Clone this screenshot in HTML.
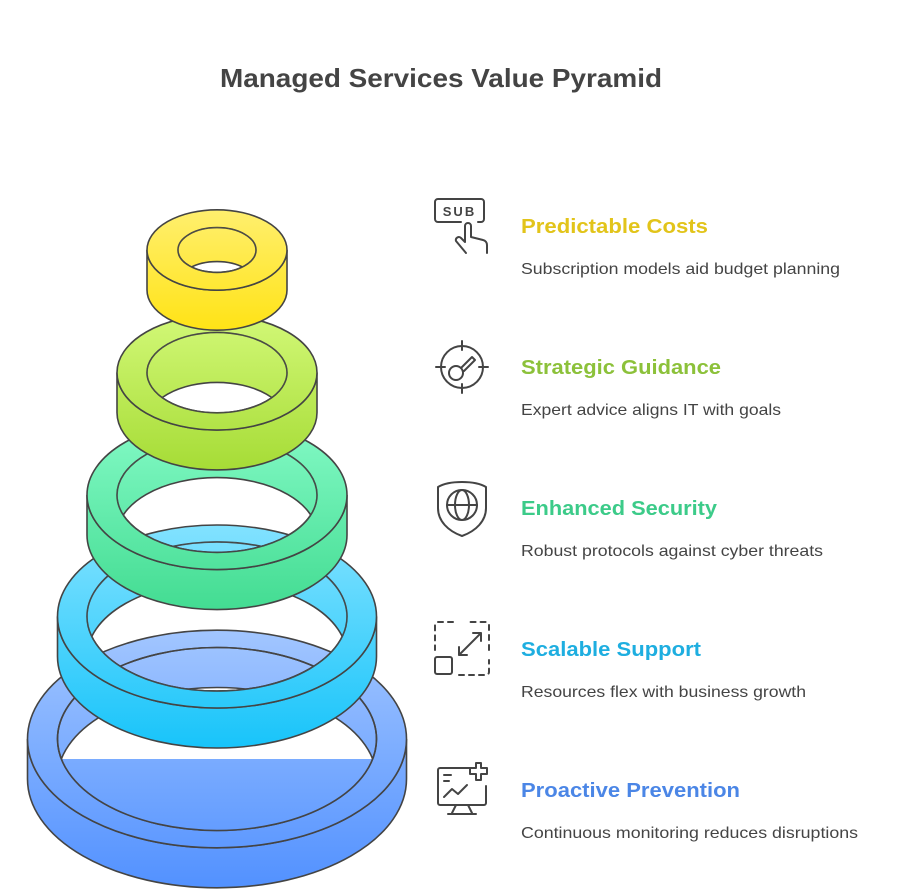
<!DOCTYPE html>
<html><head><meta charset="utf-8"><style>
html,body{margin:0;padding:0;background:#fff;}
svg{display:block;}
</style></head><body>
<svg width="900" height="892" viewBox="0 0 900 892" xmlns="http://www.w3.org/2000/svg" font-family="'Liberation Sans', sans-serif">
<defs>
<linearGradient id="gB" gradientUnits="userSpaceOnUse" x1="0" y1="630" x2="0" y2="888"><stop offset="0" stop-color="#A2C6FF"/><stop offset="1" stop-color="#5291FF"/></linearGradient>
<linearGradient id="gC" gradientUnits="userSpaceOnUse" x1="0" y1="525" x2="0" y2="748"><stop offset="0" stop-color="#82E2FF"/><stop offset="1" stop-color="#18C4FA"/></linearGradient>
<linearGradient id="gT" gradientUnits="userSpaceOnUse" x1="0" y1="420" x2="0" y2="610"><stop offset="0" stop-color="#84FAC6"/><stop offset="1" stop-color="#43DC92"/></linearGradient>
<linearGradient id="gL" gradientUnits="userSpaceOnUse" x1="0" y1="315" x2="0" y2="470"><stop offset="0" stop-color="#D2F877"/><stop offset="1" stop-color="#A6DC36"/></linearGradient>
<linearGradient id="gY" gradientUnits="userSpaceOnUse" x1="0" y1="210" x2="0" y2="330"><stop offset="0" stop-color="#FFEF6E"/><stop offset="1" stop-color="#FFE316"/></linearGradient>
<clipPath id="cB"><ellipse cx="217" cy="739" rx="159.5" ry="91.5"/></clipPath>
<clipPath id="cC"><ellipse cx="217" cy="616.5" rx="130" ry="74.6"/></clipPath>
<clipPath id="cT"><ellipse cx="217" cy="495" rx="100" ry="57.4"/></clipPath>
<clipPath id="cL"><ellipse cx="217" cy="372.6" rx="70" ry="40.2"/></clipPath>
<clipPath id="cY"><ellipse cx="217" cy="250" rx="39" ry="22.4"/></clipPath>
</defs>
<text x="441" y="87" text-anchor="middle" font-size="26" font-weight="bold" fill="#444" textLength="442" lengthAdjust="spacingAndGlyphs">Managed Services Value Pyramid</text>

<g stroke="#444" stroke-width="1.6">
<path d="M27.5,739 A189.5,108.8 0 0 0 406.5,739 L406.5,779 A189.5,108.8 0 0 1 27.5,779 Z" fill="url(#gB)"/>
<path fill-rule="evenodd" fill="url(#gB)" d="M27.5,739 A189.5,108.8 0 1 0 406.5,739 A189.5,108.8 0 1 0 27.5,739 Z M57.5,739 A159.5,91.5 0 1 0 376.5,739 A159.5,91.5 0 1 0 57.5,739 Z"/>
<g clip-path="url(#cB)">
<path fill-rule="evenodd" fill="url(#gB)" d="M57.5,739 A159.5,91.5 0 1 0 376.5,739 A159.5,91.5 0 1 0 57.5,739 Z M57.5,779 A159.5,91.5 0 1 0 376.5,779 A159.5,91.5 0 1 0 57.5,779 Z"/>
<rect x="40" y="759" width="360" height="100" fill="url(#gB)" stroke="none"/>
</g>
<ellipse cx="217" cy="739" rx="159.5" ry="91.5" fill="none"/>
<path d="M57.5,616.5 A159.5,91.5 0 0 0 376.5,616.5 L376.5,656.5 A159.5,91.5 0 0 1 57.5,656.5 Z" fill="url(#gC)"/>
<path fill-rule="evenodd" fill="url(#gC)" d="M57.5,616.5 A159.5,91.5 0 1 0 376.5,616.5 A159.5,91.5 0 1 0 57.5,616.5 Z M87,616.5 A130,74.6 0 1 0 347,616.5 A130,74.6 0 1 0 87,616.5 Z"/>
<g clip-path="url(#cC)">
<path fill-rule="evenodd" fill="url(#gC)" d="M87,616.5 A130,74.6 0 1 0 347,616.5 A130,74.6 0 1 0 87,616.5 Z M87,656.5 A130,74.6 0 1 0 347,656.5 A130,74.6 0 1 0 87,656.5 Z"/>
</g>
<path d="M87,495 A130,74.6 0 0 0 347,495 L347,535 A130,74.6 0 0 1 87,535 Z" fill="url(#gT)"/>
<path fill-rule="evenodd" fill="url(#gT)" d="M87,495 A130,74.6 0 1 0 347,495 A130,74.6 0 1 0 87,495 Z M117,495 A100,57.4 0 1 0 317,495 A100,57.4 0 1 0 117,495 Z"/>
<g clip-path="url(#cT)">
<path fill-rule="evenodd" fill="url(#gT)" d="M117,495 A100,57.4 0 1 0 317,495 A100,57.4 0 1 0 117,495 Z M117,535 A100,57.4 0 1 0 317,535 A100,57.4 0 1 0 117,535 Z"/>
</g>
<path d="M117,372.6 A100,57.4 0 0 0 317,372.6 L317,412.6 A100,57.4 0 0 1 117,412.6 Z" fill="url(#gL)"/>
<path fill-rule="evenodd" fill="url(#gL)" d="M117,372.6 A100,57.4 0 1 0 317,372.6 A100,57.4 0 1 0 117,372.6 Z M147,372.6 A70,40.2 0 1 0 287,372.6 A70,40.2 0 1 0 147,372.6 Z"/>
<g clip-path="url(#cL)">
<path fill-rule="evenodd" fill="url(#gL)" d="M147,372.6 A70,40.2 0 1 0 287,372.6 A70,40.2 0 1 0 147,372.6 Z M147,422.6 A70,40.2 0 1 0 287,422.6 A70,40.2 0 1 0 147,422.6 Z"/>
</g>
<path d="M147,250 A70,40.2 0 0 0 287,250 L287,290 A70,40.2 0 0 1 147,290 Z" fill="url(#gY)"/>
<path fill-rule="evenodd" fill="url(#gY)" d="M147,250 A70,40.2 0 1 0 287,250 A70,40.2 0 1 0 147,250 Z M178,250 A39,22.4 0 1 0 256,250 A39,22.4 0 1 0 178,250 Z"/>
<g clip-path="url(#cY)">
<path fill-rule="evenodd" fill="url(#gY)" d="M178,250 A39,22.4 0 1 0 256,250 A39,22.4 0 1 0 178,250 Z M178,284 A39,22.4 0 1 0 256,284 A39,22.4 0 1 0 178,284 Z"/>
</g>
</g>

<g stroke="#444" stroke-width="2" fill="none" stroke-linecap="round" stroke-linejoin="round">
<path d="M461,222 H438 a3,3 0 0 1 -3,-3 V202 a3,3 0 0 1 3,-3 H481 a3,3 0 0 1 3,3 V219 a3,3 0 0 1 -3,3 H478"/>
<path d="M465,242 V226 a3,3 0 0 1 6,0 V237 l12,3 a5,5 0 0 1 4,5 V253 M465,242 l-4,-4 a3,3 0 0 0 -5,3 l10,12"/>
<circle cx="462" cy="367" r="21"/>
<path d="M462,341 V350 M462,384 V393 M436,367 H445 M479,367 H488"/>
<circle cx="456" cy="373" r="7"/>
<path d="M461,368 L472,357 l3,3 -11,11"/>
<path d="M462,482 C452,482 443,484 438,487 V508 C438,521 448,531 462,536 C476,531 486,521 486,508 V487 C481,484 472,482 462,482 Z"/>
<circle cx="462" cy="505" r="15"/>
<ellipse cx="462" cy="505" rx="7" ry="15"/>
<path d="M447,505 H477"/>
<path d="M453,622 H438 a3,3 0 0 0 -3,3 V650 M489,650 V625 a3,3 0 0 0 -3,-3 H467 M459,675 H486 a3,3 0 0 0 3,-3 V660" stroke-dasharray="5,5"/>
<rect x="435" y="657" width="17" height="17" rx="2"/>
<path d="M459,667 L481,645 M459,667 H467 M459,667 V659 M481,645 H473 M481,645 V653" transform="translate(0,-12)"/>
<path d="M470,768 H440 a2,2 0 0 0 -2,2 V803 a2,2 0 0 0 2,2 H484 a2,2 0 0 0 2,-2 V786"/>
<path d="M456,805 L452,813 M468,805 L472,813 M448,814 H476"/>
<path d="M444,775 H451 M444,781 H449 M444,797 L452,789 L458,794 L467,785"/>
<path d="M476,763 H481 V768 H487 V774 H481 V780 H476 V774 H470 V768 H476 Z" fill="#fff"/>
</g>
<text x="459.5" y="216" text-anchor="middle" font-size="13" font-weight="bold" fill="#444" letter-spacing="2">SUB</text>

<g font-size="20" font-weight="bold">
<text x="521" y="233" fill="#E2C41A" textLength="187" lengthAdjust="spacingAndGlyphs">Predictable Costs</text>
<text x="521" y="374" fill="#8CC13A" textLength="200" lengthAdjust="spacingAndGlyphs">Strategic Guidance</text>
<text x="521" y="515" fill="#3CCB89" textLength="196" lengthAdjust="spacingAndGlyphs">Enhanced Security</text>
<text x="521" y="656" fill="#1EAEE0" textLength="180" lengthAdjust="spacingAndGlyphs">Scalable Support</text>
<text x="521" y="797" fill="#4B86E6" textLength="219" lengthAdjust="spacingAndGlyphs">Proactive Prevention</text>
</g>
<g font-size="16" fill="#444">
<text x="521" y="274" textLength="319" lengthAdjust="spacingAndGlyphs">Subscription models aid budget planning</text>
<text x="521" y="415" textLength="260" lengthAdjust="spacingAndGlyphs">Expert advice aligns IT with goals</text>
<text x="521" y="556" textLength="302" lengthAdjust="spacingAndGlyphs">Robust protocols against cyber threats</text>
<text x="521" y="697" textLength="285" lengthAdjust="spacingAndGlyphs">Resources flex with business growth</text>
<text x="521" y="838" textLength="337" lengthAdjust="spacingAndGlyphs">Continuous monitoring reduces disruptions</text>
</g>
</svg>
</body></html>
